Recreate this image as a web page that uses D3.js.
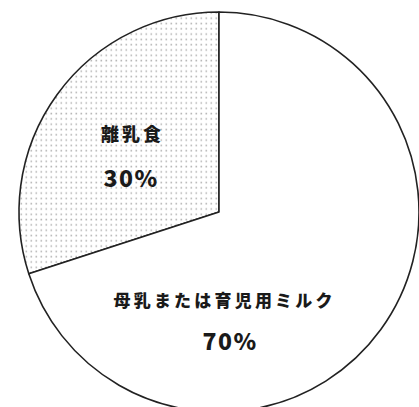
<!DOCTYPE html>
<html>
<head>
<meta charset="utf-8">
<script src="https://cdn.jsdelivr.net/npm/d3@7/dist/d3.min.js"></script>
<style>
  html, body { margin: 0; padding: 0; background: #fff; }
  svg { display: block; }
</style>
</head>
<body>
<svg id="chart" width="419" height="407"></svg>
<script>
// Feeding breakdown (percent)
const categories = ["離乳食", "母乳または育児用ミルク"];
const values = [30, 70];
const valueLabels = ["30%", "70%"];

const width = 419, height = 407;
const cx = 219, cy = 212, radius = 200;

const svg = d3.select("#chart");

// Dotted fill for the solid-food slice
const defs = svg.append("defs");
const pat = defs.append("pattern")
  .attr("id", "dots")
  .attr("patternUnits", "userSpaceOnUse")
  .attr("width", 5).attr("height", 5.3);
pat.append("rect").attr("width", 5).attr("height", 5.3).attr("fill", "#fff");
pat.append("rect").attr("x", 1.5).attr("y", 1.5).attr("width", 1.6).attr("height", 1.6)
  .attr("fill", "#b8b8b8");

const fills = ["url(#dots)", "#ffffff"];

// Slices run counter-clockwise from twelve o'clock
const pie = d3.pie().sort(null).value(d => d)
  .startAngle(0).endAngle(-2 * Math.PI);
const arcs = pie(values);
const arc = d3.arc().innerRadius(0).outerRadius(radius);

const g = svg.append("g").attr("transform", `translate(${cx},${cy})`);

g.selectAll("path.slice")
  .data(arcs)
  .join("path")
  .attr("class", "slice")
  .attr("d", arc)
  .attr("fill", (d, i) => fills[i])
  .attr("stroke", "#222")
  .attr("stroke-width", 1.6)
  .attr("stroke-linejoin", "round");

// Label anchors relative to the pie centre, per slice
const labelPos = [
  { name: [-88, -79], value: [-89, -35] },
  { name: [4, 87], value: [10, 128] }
];
const nameStyle = [
  { size: 18, spacing: 3 },
  { size: 17, spacing: 3.2 }
];

const labelFont = "'Noto Sans CJK JP', 'Noto Sans', sans-serif";

arcs.forEach((d, i) => {
  const p = labelPos[i];
  g.append("text")
    .attr("x", p.name[0] + nameStyle[i].spacing / 2)
    .attr("y", p.name[1])
    .attr("text-anchor", "middle")
    .attr("dominant-baseline", "central")
    .attr("font-family", labelFont)
    .attr("font-weight", 900)
    .attr("font-size", nameStyle[i].size)
    .attr("letter-spacing", nameStyle[i].spacing)
    .attr("fill", "#1a1a1a")
    .text(categories[i]);
  g.append("text")
    .attr("x", p.value[0] + 1)
    .attr("y", p.value[1])
    .attr("text-anchor", "middle")
    .attr("dominant-baseline", "central")
    .attr("font-family", labelFont)
    .attr("font-weight", 900)
    .attr("font-size", 23)
    .attr("letter-spacing", 1.5)
    .attr("fill", "#1a1a1a")
    .text(valueLabels[i]);
});
</script>
</body>
</html>
